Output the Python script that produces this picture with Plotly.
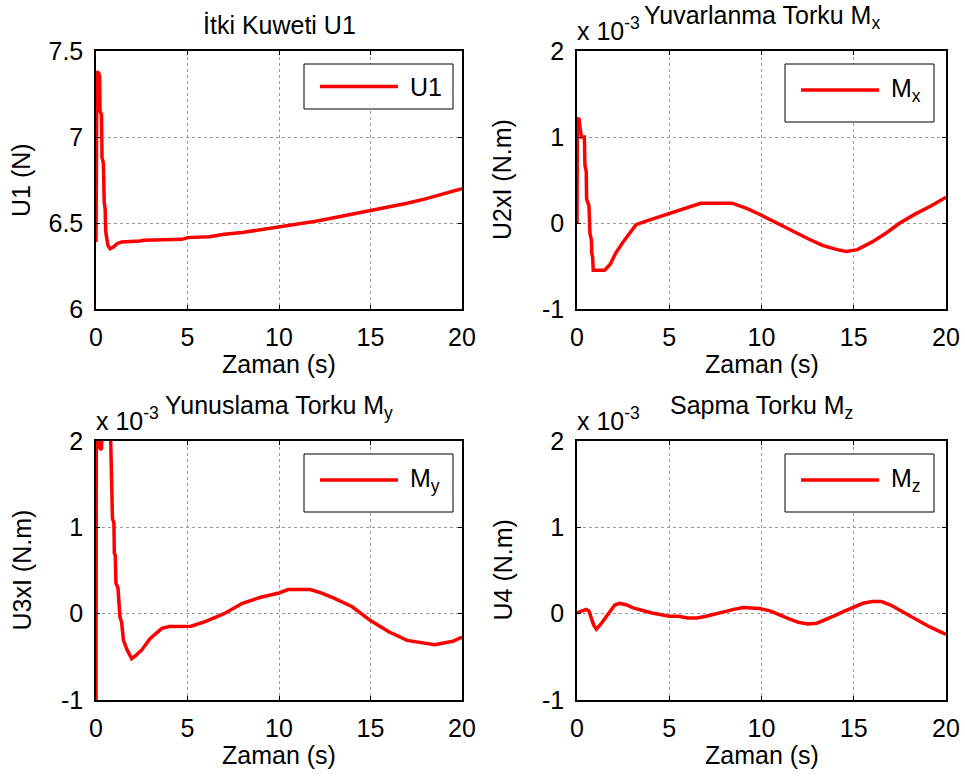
import plotly.graph_objects as go

# ---------------- data ----------------
t_u1 = [0, 0.01, 0.05, 0.15, 0.2, 0.22, 0.3, 0.33, 0.4, 0.45, 0.5, 0.53, 0.58, 0.65, 0.77,
        0.95, 1.15, 1.4, 2.4, 2.6, 4.7, 5.0, 6.2, 7, 8, 9, 10, 11, 12, 13, 14, 15, 16, 17,
        18, 19, 20]
u1 = [6.39, 7.30, 7.38, 7.37, 7.35, 7.15, 7.13, 6.88, 6.85, 6.62, 6.58, 6.45, 6.40, 6.37, 6.35,
      6.36, 6.38, 6.39, 6.395, 6.40, 6.405, 6.415, 6.42, 6.435, 6.445, 6.46, 6.475, 6.49, 6.51,
      6.53, 6.55, 6.57, 6.59, 6.615, 6.64, 6.67, 6.70]

t_mx = [0, 0.02, 0.1, 0.15, 0.2, 0.25, 0.4, 0.43, 0.5, 0.52, 0.65, 0.7, 0.78, 0.8, 0.85, 0.88,
        1.5, 1.8, 2.1, 2.5, 2.9, 3.2, 3.7, 4.3, 5, 6, 6.7, 8.4, 9.2, 10, 10.8, 11.7, 12.5, 13.3,
        14.1, 14.6, 15.2, 16, 16.8, 17.5, 18.3, 19.2, 20]
mx = [0, 1.2, 1.22, 1.1, 1.05, 1.0, 1.0, 0.67, 0.6, 0.28, 0.2, -0.12, -0.2, -0.35, -0.4, -0.55,
      -0.55, -0.48, -0.35, -0.22, -0.1, -0.02, 0.02, 0.06, 0.11, 0.18, 0.23, 0.23, 0.17, 0.09,
      0.0, -0.1, -0.18, -0.26, -0.31, -0.33, -0.31, -0.22, -0.11, 0.0, 0.1, 0.2, 0.30]

t_my = [0, 0.02, 0.15, 0.2, 0.3, 0.35, 0.75, 0.8, 0.85, 0.9, 0.98, 1.0, 1.05, 1.09, 1.2, 1.31,
        1.4, 1.5, 1.7, 1.95, 2.2, 2.5, 2.95, 3.3, 3.6, 4, 5, 5.2, 6, 7, 8, 9, 10, 10.5, 11.7,
        12.3, 13, 14, 15, 16, 17, 18, 18.5, 19, 19.5, 20]
my = [-1.3, 2.5, 2.5, 1.92, 1.9, 2.5, 2.5, 2.0, 1.6, 1.1, 1.05, 0.7, 0.68, 0.35, 0.3, -0.04,
      -0.1, -0.31, -0.42, -0.52, -0.48, -0.42, -0.29, -0.22, -0.17, -0.15, -0.15, -0.145, -0.09,
      0.0, 0.12, 0.19, 0.24, 0.28, 0.28, 0.24, 0.18, 0.08, -0.08, -0.21, -0.31, -0.34, -0.36,
      -0.34, -0.32, -0.27]

t_mz = [0, 0.3, 0.5, 0.65, 0.78, 0.9, 1.05, 1.3, 1.6, 1.85, 2.05, 2.3, 2.7, 3, 3.5, 4, 5, 5.5,
        6, 6.5, 7, 8, 8.5, 9, 9.9, 10.5, 11, 11.5, 12, 12.5, 13, 13.5, 14, 14.5, 15, 15.5, 16,
        16.5, 17, 17.5, 18, 18.5, 19, 19.5, 20]
mz = [0.01, 0.04, 0.05, 0.03, -0.06, -0.13, -0.18, -0.12, -0.03, 0.05, 0.10, 0.12, 0.1, 0.07,
      0.04, 0.01, -0.03, -0.03, -0.05, -0.05, -0.03, 0.03, 0.05, 0.07, 0.06, 0.03, -0.02, -0.06,
      -0.1, -0.12, -0.11, -0.07, -0.02, 0.03, 0.07, 0.12, 0.14, 0.14, 0.10, 0.04, -0.03, -0.09,
      -0.14, -0.19, -0.24]

x_ticks = [0, 5, 10, 15, 20]
x_tick_text = ["0", "5", "10", "15", "20"]
u1_ticks = [6, 6.5, 7, 7.5]
u1_tick_text = ["6", "6.5", "7", "7.5"]
torque_ticks = [-1, 0, 1, 2]
torque_tick_text = ["-1", "0", "1", "2"]

titles = ["İtki Kuweti U1", "Yuvarlanma Torku M<sub>x</sub>",
          "Yunuslama Torku M<sub>y</sub>", "Sapma Torku M<sub>z</sub>"]
ylabels = ["U1 (N)", "U2xI (N.m)", "U3xI (N.m)", "U4 (N.m)"]
legend_names = ["U1", "M<sub>x</sub>", "M<sub>y</sub>", "M<sub>z</sub>"]
xlabel = "Zaman (s)"

# ---------------- layout ----------------
W, H = 965, 778
FONT = "Liberation Sans, Arial, sans-serif"
FS = 25
RED = "#ff0000"

# pixel boxes of the 4 axes: (x0, x1, ytop, ybottom)
boxes = [(96, 462, 51, 309), (577, 946, 51, 309), (96, 462, 441, 700), (577, 946, 441, 700)]

fig = go.Figure()
series = [(t_u1, u1), (t_mx, mx), (t_my, my), (t_mz, mz)]
for i, (tt, yy) in enumerate(series):
    ax = "" if i == 0 else str(i + 1)
    fig.add_trace(go.Scatter(x=tt, y=yy, mode="lines", line=dict(color=RED, width=3.5),
                             xaxis="x" + ax, yaxis="y" + ax, showlegend=False,
                             name=legend_names[i]))

annotations = []
shapes = []
for i, (x0, x1, yt, yb) in enumerate(boxes):
    ax = "" if i == 0 else str(i + 1)
    xd = [x0 / W, x1 / W]
    yd = [1 - yb / H, 1 - yt / H]
    common = dict(showline=True, linecolor="black", linewidth=1.5, mirror="ticks",
                  ticks="inside", ticklen=4, tickcolor="black", automargin=False,
                  showgrid=True, gridcolor="#9a9a9a", griddash="dot", gridwidth=1,
                  zeroline=False, tickfont=dict(family=FONT, size=FS, color="black"))
    fig.layout["xaxis" + ax] = dict(domain=xd, range=[0, 20], tickvals=x_ticks,
                                    ticktext=x_tick_text,
                                    anchor="y" + ax, ticklabelstandoff=5, **common)
    if i == 0:
        fig.layout["yaxis" + ax] = dict(domain=yd, range=[6, 7.5], tickvals=u1_ticks,
                                        ticktext=u1_tick_text,
                                        anchor="x" + ax, ticklabelstandoff=6, **common)
    else:
        fig.layout["yaxis" + ax] = dict(domain=yd, range=[-1, 2], tickvals=torque_ticks,
                                        ticktext=torque_tick_text,
                                        anchor="x" + ax, ticklabelstandoff=6, **common)
    xc = (x0 + x1) / 2
    # x-axis label
    annotations.append(dict(text=xlabel, x=xc / W, y=1 - (yb + 55) / H, xref="paper",
                            yref="paper", showarrow=False, xanchor="center", yanchor="middle",
                            font=dict(family=FONT, size=FS, color="black")))
    # y-axis label
    annotations.append(dict(text=ylabels[i], x=(x0 - 75) / W, y=1 - (yt + yb) / 2 / H,
                            xref="paper", yref="paper", showarrow=False, textangle=-90,
                            xanchor="center", yanchor="middle",
                            font=dict(family=FONT, size=FS, color="black")))
    # title
    ty = yt - 26 if i == 0 else yt - 34
    annotations.append(dict(text=titles[i], x=xc / W, y=1 - ty / H, xref="paper",
                            yref="paper", showarrow=False, xanchor="center", yanchor="middle",
                            font=dict(family=FONT, size=FS, color="black")))
    # exponent label
    if i > 0:
        annotations.append(dict(text="x 10<sup>-3</sup>", x=(x0 - 2) / W, y=1 - (yt - 4) / H,
                                xref="paper", yref="paper", showarrow=False, xanchor="left",
                                yanchor="bottom",
                                font=dict(family=FONT, size=FS, color="black")))
    # legend box (drawn in axis-domain coordinates)
    lx0, lx1 = x0 + 208, x0 + 357
    lyt = yt + 13
    lyb = yt + (58 if i == 0 else 71)
    fx = lambda p: (p - x0) / (x1 - x0)
    fy = lambda p: (yb - p) / (yb - yt)
    shapes.append(dict(type="rect", xref="x" + ax + " domain", yref="y" + ax + " domain",
                       x0=fx(lx0), x1=fx(lx1), y0=fy(lyb), y1=fy(lyt),
                       line=dict(color="black", width=1), fillcolor="white", layer="above"))
    ly = (lyt + lyb) / 2 - (0 if i == 0 else 3)
    shapes.append(dict(type="line", xref="x" + ax + " domain", yref="y" + ax + " domain",
                       x0=fx(lx0 + 16), x1=fx(lx0 + 94), y0=fy(ly), y1=fy(ly),
                       line=dict(color=RED, width=3.5), layer="above"))
    annotations.append(dict(text=legend_names[i], x=fx(lx0 + 104), y=fy(ly),
                            xref="x" + ax + " domain", yref="y" + ax + " domain",
                            showarrow=False, xanchor="left", yanchor="middle",
                            font=dict(family=FONT, size=FS, color="black")))

fig.update_layout(width=W, height=H, margin=dict(l=0, r=0, t=0, b=0, autoexpand=False),
                  paper_bgcolor="white", plot_bgcolor="white",
                  annotations=annotations, shapes=shapes, showlegend=False)

fig.write_html("out.html")
